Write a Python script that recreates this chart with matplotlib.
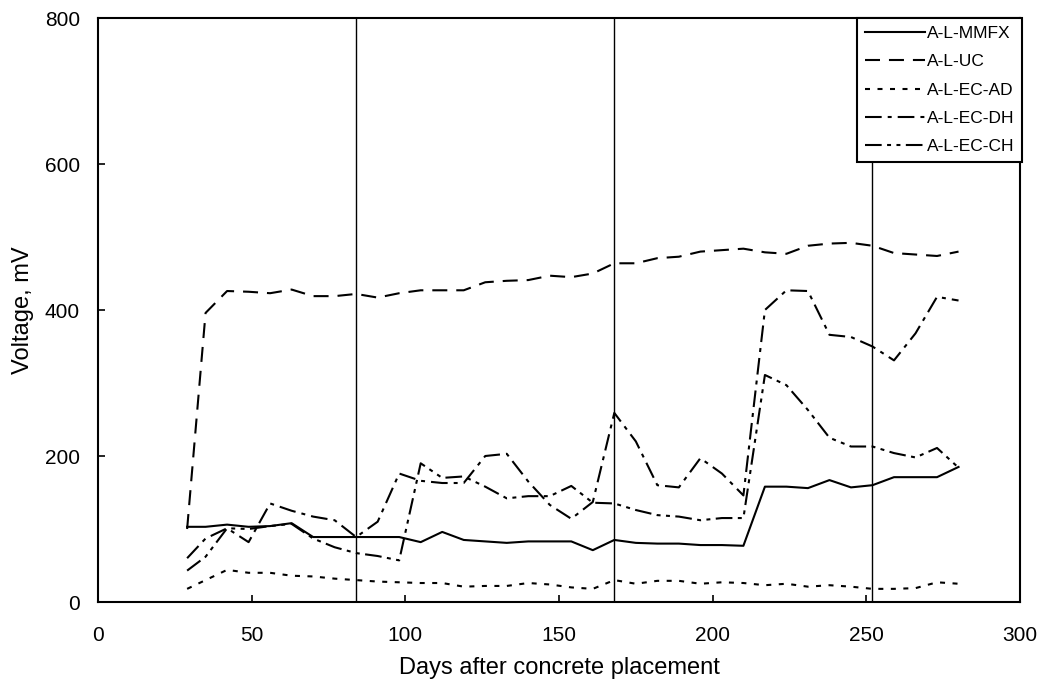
import matplotlib
matplotlib.use("Agg")
import matplotlib.pyplot as plt

plt.rcParams['font.family'] = ['Liberation Sans', 'DejaVu Sans']

days = [29, 35, 42, 49, 56, 63, 70, 77, 84, 91, 98, 105, 112, 119, 126, 133, 140,
        147, 154, 161, 168, 175, 182, 189, 196, 203, 210, 217, 224, 231, 238, 245,
        252, 259, 266, 273, 280]

mmfx = [103, 103, 106, 103, 104, 108, 89, 89, 89, 89, 89, 82, 96, 85, 83, 81, 83,
        83, 83, 71, 85, 81, 80, 80, 78, 78, 77, 158, 158, 156, 167, 157,
        160, 171, 171, 171, 185]

uc = [100, 396, 426, 425, 423, 428, 419, 419, 422, 417, 423, 427, 427, 427, 438, 440, 441,
      447, 445, 450, 464, 464, 471, 473, 480, 482, 484, 479, 477, 488, 491, 492,
      488, 478, 476, 474, 480]

ec_ad = [18, 30, 44, 40, 40, 36, 35, 32, 30, 28, 27, 26, 26, 21, 22, 22, 26,
         24, 20, 18, 30, 25, 29, 29, 25, 27, 26, 23, 25, 21, 23, 21,
         18, 18, 19, 27, 25]

ec_dh = [60, 87, 101, 82, 135, 125, 117, 112, 89, 110, 176, 166, 163, 163, 200, 203, 165,
         133, 114, 137, 259, 220, 160, 157, 197, 176, 146, 400, 427, 426, 366, 363,
         350, 331, 368, 418, 413]

ec_ch = [43, 62, 101, 100, 104, 107, 87, 75, 67, 63, 57, 190, 170, 172, 158, 142, 145,
         145, 159, 136, 135, 126, 119, 117, 112, 115, 115, 311, 297, 263, 225, 213,
         213, 204, 198, 211, 184]

labels = ['A-L-MMFX', 'A-L-UC', 'A-L-EC-AD', 'A-L-EC-DH', 'A-L-EC-CH']
vlines = [84, 168, 252]
xticks = [0, 50, 100, 150, 200, 250, 300]
yticks = [0, 200, 400, 600, 800]

fig = plt.figure(figsize=(10.49, 6.86), dpi=100)
ax = fig.add_axes([98/1049, 1 - 602/686, (1020-98)/1049, (602-18)/686])

lw = 1.5
ax.plot(days, mmfx, color='black', lw=lw, label=labels[0])
ax.plot(days, uc, color='black', lw=lw, dashes=(7.2, 4.3), label=labels[1])
ax.plot(days, ec_ad, color='black', lw=lw, dashes=(2.4, 3.6), label=labels[2])
ax.plot(days, ec_dh, color='black', lw=lw, dashes=(8.0, 2.9, 1.9, 2.9), label=labels[3])
ax.plot(days, ec_ch, color='black', lw=lw, dashes=(8.0, 2.6, 1.9, 2.6, 1.9, 2.6), label=labels[4])

for v in vlines:
    ax.axvline(v, color='black', lw=1.0)

ax.set_xlim(0, 300)
ax.set_ylim(0, 800)
ax.set_xticks(xticks)
ax.set_yticks(yticks)
ax.tick_params(direction='in', length=5, width=1.2, labelsize=15)
ax.tick_params(axis='x', pad=17)
ax.tick_params(axis='y', pad=13)
for s in ax.spines.values():
    s.set_linewidth(1.5)
    s.set_color('black')

ax.set_xlabel('Days after concrete placement', fontsize=17, labelpad=9)
ax.set_ylabel('Voltage, mV', fontsize=17, labelpad=8)

leg = ax.legend(loc='upper right', bbox_to_anchor=(1.002, 1.0), borderaxespad=0,
                fontsize=12.5, frameon=True, fancybox=False, handlelength=3.45,
                handletextpad=0.1, labelspacing=0.76, borderpad=0.45)
leg.get_frame().set_edgecolor('black')
leg.get_frame().set_linewidth(1.5)
leg.get_frame().set_alpha(1)

fig.savefig('out.png', dpi=100)
